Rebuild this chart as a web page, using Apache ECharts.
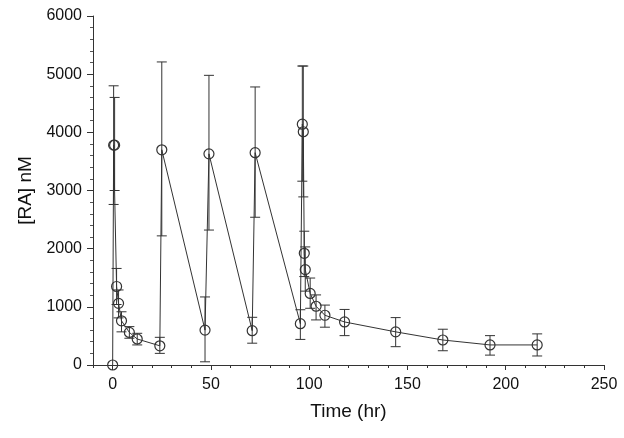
<!DOCTYPE html>
<html>
<head>
<meta charset="utf-8">
<script src="https://cdn.jsdelivr.net/npm/echarts@6/dist/echarts.min.js"></script>
<style>
  html, body { margin: 0; padding: 0; background: #fff; }
  #chart { width: 624px; height: 438px; }
</style>
</head>
<body>
<div id="chart"></div>
<script>
// sampling times (hr)
let times = [0, 0.5, 1, 2, 3, 4.5, 8.5, 12.5, 24, 25, 47, 49, 71, 72.5,
    95.5, 96.5, 97, 97.5, 98, 100.5, 103.5, 108, 118, 144, 168, 192, 216];
// mean [RA] nM
let means = [0, 3780, 3780, 1350, 1060, 760, 560, 447, 330, 3700, 600, 3630, 590, 3650,
    710, 4140, 4010, 1920, 1640, 1230, 1010, 855, 740, 570, 430, 345, 345];
// error bar lower / upper ends
let lows = [0, 2760, 3000, 1040, 810, 570, 460, 345, 200, 2220, 55, 2320, 375, 2540,
    440, 3160, 2890, 1520, 1270, 975, 775, 650, 505, 315, 245, 170, 155];
let highs = [0, 4800, 4600, 1660, 1290, 915, 660, 545, 476, 5210, 1170, 4980, 820, 4780,
    950, 5140, 5140, 2300, 2030, 1495, 1205, 1030, 955, 815, 615, 505, 535];

let xMajor = [0, 50, 100, 150, 200, 250];
let xMinor = [];
for (let v = -10; v <= 250; v += 10) xMinor.push(v);

let lineData = times.map((t, i) => [t, means[i]]);
let errData = [];
for (let i = 0; i < times.length; i++) {
    if (highs[i] > lows[i]) errData.push([times[i], lows[i], highs[i]]);
}

function renderErr(params, api) {
    let x = api.value(0);
    let lo = api.coord([x, api.value(1)]);
    let hi = api.coord([x, api.value(2)]);
    let w = 5;
    let style = { stroke: '#333', lineWidth: 1 };
    return {
        type: 'group',
        children: [
            { type: 'line', shape: { x1: lo[0], y1: lo[1], x2: hi[0], y2: hi[1] }, style: style },
            { type: 'line', shape: { x1: lo[0] - w, y1: lo[1], x2: lo[0] + w, y2: lo[1] }, style: style },
            { type: 'line', shape: { x1: hi[0] - w, y1: hi[1], x2: hi[0] + w, y2: hi[1] }, style: style }
        ]
    };
}

let axisFont = { fontFamily: 'Liberation Sans', fontSize: 16, color: '#111' };
let nameFont = { fontFamily: 'Liberation Sans', fontSize: 19, color: '#111' };

let option = {
    animation: false,
    backgroundColor: '#fff',
    grid: { left: 93, right: 20, top: 16, bottom: 73 },
    xAxis: [
        {
            type: 'value', min: -10, max: 250,
            name: 'Time (hr)', nameLocation: 'middle', nameGap: 37,
            nameTextStyle: nameFont,
            axisLine: { lineStyle: { color: '#333' } },
            axisTick: { customValues: xMajor, length: 5, lineStyle: { color: '#333' } },
            axisLabel: Object.assign({ customValues: xMajor, margin: 12 }, axisFont),
            splitLine: { show: false }
        },
        {
            type: 'value', min: -10, max: 250, position: 'bottom',
            axisLine: { show: false },
            axisTick: { customValues: xMinor, length: 3, lineStyle: { color: '#333' } },
            axisLabel: { show: false },
            splitLine: { show: false }
        }
    ],
    yAxis: {
        type: 'value', min: 0, max: 6000, interval: 1000,
        name: '[RA] nM', nameLocation: 'middle', nameGap: 55,
        nameTextStyle: nameFont,
        axisLine: { show: true, onZero: false, lineStyle: { color: '#333' } },
        axisTick: { show: true, length: 6, lineStyle: { color: '#333' } },
        minorTick: { show: true, splitNumber: 5, length: 3, lineStyle: { color: '#555' } },
        axisLabel: Object.assign({ margin: 11, formatter: (v) => String(v) }, axisFont),
        splitLine: { show: false }
    },
    series: [
        {
            type: 'custom',
            renderItem: renderErr,
            encode: { x: 0, y: [1, 2] },
            data: errData,
            z: 1
        },
        {
            type: 'line',
            data: lineData,
            symbol: 'circle',
            symbolSize: 10,
            lineStyle: { color: '#333', width: 1 },
            itemStyle: { color: 'rgba(0,0,0,0)', borderColor: '#333', borderWidth: 1.2 },
            z: 2
        }
    ]
};

let myChart = echarts.init(document.getElementById('chart'));
myChart.setOption(option);
</script>
</body>
</html>
